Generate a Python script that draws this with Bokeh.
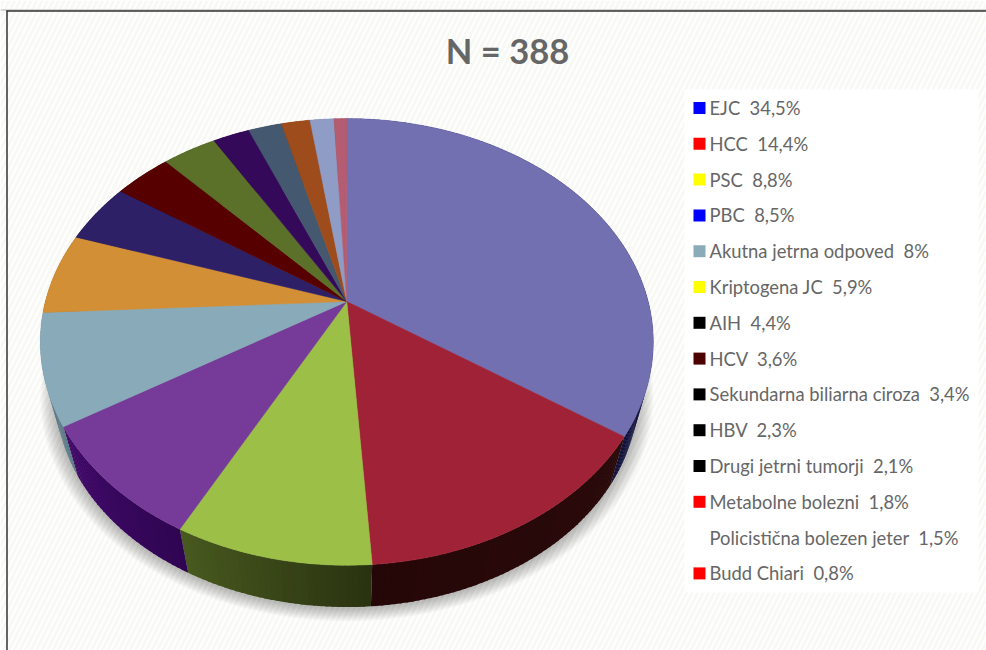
import math
from bokeh.plotting import figure
from bokeh.models import Range1d
from bokeh.core.properties import value
from bokeh.embed import file_html
from bokeh.resources import INLINE

title = "N = 388"
names = ["EJC", "HCC", "PSC", "PBC", "Akutna jetrna odpoved", "Kriptogena JC", "AIH", "HCV",
         "Sekundarna biliarna ciroza", "HBV", "Drugi jetrni tumorji", "Metabolne bolezni",
         "Policistična bolezen jeter", "Budd Chiari"]
shares = [34.5, 14.4, 8.8, 8.5, 8.0, 5.9, 4.4, 3.6, 3.4, 2.3, 2.1, 1.8, 1.5, 0.8]
share_labels = ["34,5%", "14,4%", "8,8%", "8,5%", "8%", "5,9%", "4,4%", "3,6%", "3,4%", "2,3%",
                "2,1%", "1,8%", "1,5%", "0,8%"]
top_colors = ["#7370b2", "#a02236", "#9cbf47", "#763a98", "#88aab9", "#d38f35", "#2e2067", "#560000",
              "#5b7029", "#35095a", "#44586f", "#9e4c1b", "#8f9cc6", "#b45c72"]
wall_start = ["#1a1a5a", "#2a0a0a", "#2a3310", "#2f0552", "#5a7a88", "#8a5a20", "#1a1040", "#300000",
              "#334018", "#200538", "#2a3644", "#5e2c10", "#586080", "#703848"]
wall_end = ["#10103a", "#260707", "#48591f", "#420a6a", "#5a7a88", "#8a5a20", "#1a1040", "#300000",
            "#334018", "#200538", "#2a3644", "#5e2c10", "#586080", "#703848"]
key_colors = ["#0000ff", "#ff0000", "#ffff00", "#0000ff", "#8aabb8", "#ffff00", "#000000", "#4d0000",
              "#000000", "#000000", "#000000", "#ff0000", "#ffffff", "#ff0000"]

# projection of the tilted disc into page pixels
CX, CY = 346.3, 301
RX, RY, K = 301.4, 216.0, 0.181
LOW_S, LOW_DY = 0.95, 55

def rim(deg, scale=1.0, dy=0.0):
    a = math.radians(deg)
    u, v = math.sin(a), -math.cos(a)
    w = 1 - K * v
    return CX + scale * RX * u / w, CY + dy + scale * RY * v / w

def arc(a0, a1, scale=1.0, dy=0.0, step=1.0):
    n = max(2, int((a1 - a0) / step) + 1)
    return [rim(a0 + (a1 - a0) * i / (n - 1), scale, dy) for i in range(n)]

def mix(c0, c1, t):
    a = [int(c0[i:i + 2], 16) for i in (1, 3, 5)]
    b = [int(c1[i:i + 2], 16) for i in (1, 3, 5)]
    return "#%02x%02x%02x" % tuple(round(x + (y - x) * t) for x, y in zip(a, b))

total = sum(shares)
edges = [0.0]
for s in shares:
    edges.append(edges[-1] + s / total * 360)

p = figure(width=986, height=650, x_range=Range1d(0, 986), y_range=Range1d(650, 0),
           output_backend="svg", toolbar_location=None, min_border=0,
           x_axis_type=None, y_axis_type=None, background_fill_color="#ffffff",
           border_fill_color="#ffffff", outline_line_color=None)
p.grid.visible = False

# paper
p.quad(left=[0], right=[986], top=[0], bottom=[650], fill_color="#ffffff", line_color=None,
       hatch_pattern="right_diagonal_line", hatch_color="#f8f8f4", hatch_weight=3, hatch_scale=11)
p.segment([0], [9.5], [986], [9.5], line_color="#b5b5b5", line_width=1)
p.segment([6], [10.5], [986], [10.5], line_color="#333333", line_width=1.5)
p.segment([6.5], [10], [6.5], [650], line_color="#333333", line_width=1.5)

# legend panel
p.quad(left=[684], right=[978], top=[89], bottom=[592], fill_color="#ffffff", line_color=None)

# soft shadow under the disc
for i in range(10):
    pts = arc(0, 360, LOW_S + 0.005 * (10 - i), LOW_DY + 1)
    p.patch([q[0] for q in pts], [q[1] for q in pts], fill_color="#000000", fill_alpha=0.028, line_color=None)

# side wall, in shaded strips
for i in range(len(shares)):
    a0, a1 = edges[i], edges[i + 1]
    n = max(1, int(a1 - a0))
    for j in range(n):
        s0 = a0 + (a1 - a0) * j / n
        s1 = a0 + (a1 - a0) * (j + 1) / n + (0.3 if j < n - 1 else 0)
        up = arc(s0, s1)
        low = arc(s0, s1, LOW_S, LOW_DY)
        pts = up + low[::-1]
        p.patch([q[0] for q in pts], [q[1] for q in pts],
                fill_color=mix(wall_start[i], wall_end[i], j / max(1, n - 1)), line_color=None)

# top face
for i, col in enumerate(top_colors):
    pts = [(CX, CY)] + arc(edges[i], edges[i + 1])
    p.patch([q[0] for q in pts], [q[1] for q in pts], fill_color=col, line_color=col, line_width=0.5)

# title
p.text([507], [49.5], text=[title], text_font=value("Lato"), text_font_style="bold", text_font_size="34.5px",
       text_color="#666666", text_align="center", text_baseline="middle")

# legend
rows = [107.5 + 35.8 * i for i in range(len(names))]
p.scatter([699] * len(rows), rows, marker="square", size=12, fill_color=key_colors, line_color=None)
p.text([709] * len(rows), rows, text=[f"{n}\u00a0 {s}" for n, s in zip(names, share_labels)],
       text_font=value("Lato"), text_font_size="18.4px", text_color="#666666",
       text_align="left", text_baseline="middle")

open("out.html", "w").write(file_html(p, INLINE))
